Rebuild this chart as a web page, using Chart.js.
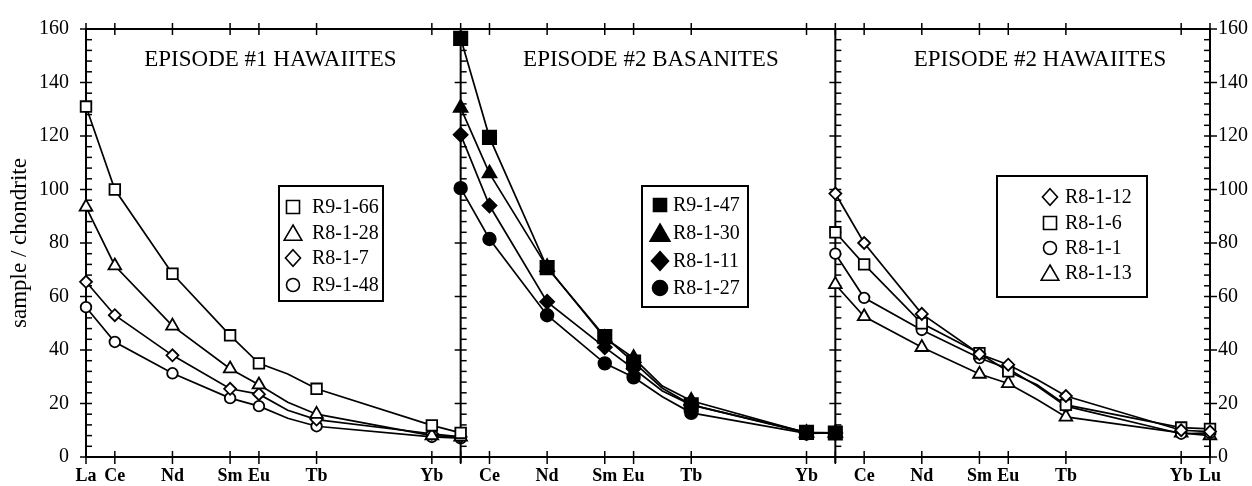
<!DOCTYPE html>
<html lang="en">
<head>
<meta charset="UTF-8">
<title>REE patterns — Episode #1 and #2 lavas</title>
<script src="https://cdn.jsdelivr.net/npm/chart.js@4.4.7/dist/chart.umd.min.js"></script>
<style>
*{margin:0;padding:0;box-sizing:border-box}
html,body{width:1252px;height:486px;background:#fff;overflow:hidden}
#wrap{position:relative;width:1252px;height:486px}
</style>
</head>
<body>
<div id="wrap"><canvas id="ree"></canvas></div>
<script>
// REE order along x; Gd only bends the lines (no symbol, no label)
const ELEMENTS = ["La", "Ce", "Nd", "Sm", "Eu", "Gd", "Tb", "Yb", "Lu"];
const SLOTS = [0, 1, 3, 5, 6, 7, 8, 12, 13];
const PANEL_SPAN = 13;
const Y_TICKS = [0, 20, 40, 60, 80, 100, 120, 140, 160];

const PANEL_TITLES = ["EPISODE #1 HAWAIITES", "EPISODE #2 BASANITES", "EPISODE #2 HAWAIITES"];

// sample / chondrite, one value per entry of ELEMENTS
const ep1HawNames = ["R9-1-66", "R8-1-28", "R8-1-7", "R9-1-48"];
const ep1HawValues = [
  [131, 100, 68.5, 45.5, 35, 31, 25.5, 11.8, 9],
  [93.5, 71.5, 49, 33, 27, 20.5, 16, 8, 7.5],
  [65.5, 53, 38, 25.5, 23.5, 17.5, 14, 8.7, 7.5],
  [56, 43, 31.3, 22, 19, 14.5, 11.5, 7.5, 7]
];

const ep2BasNames = ["R9-1-47", "R8-1-30", "R8-1-11", "R8-1-27"];
const ep2BasValues = [
  [156.5, 119.5, 70.8, 45, 35.5, 25.7, 19.5, 9.2, 9],
  [130.5, 106, 71, 44.5, 37, 26.5, 21, 9, 9],
  [120.5, 94, 58, 41, 33, 24.7, 19.5, 9, 9],
  [100.5, 81.5, 53, 35, 29.8, 22.5, 16.5, 8.8, 9]
];

const ep2HawNames = ["R8-1-12", "R8-1-6", "R8-1-1", "R8-1-13"];
const ep2HawValues = [
  [98.5, 80, 53.5, 38.5, 34.5, 29, 22.8, 10, 9.5],
  [84, 72, 50, 38.8, 32, 27, 19.5, 11, 10.5],
  [76, 59.5, 47.5, 37, 33, 26.5, 19, 8.7, 9],
  [64.5, 52.5, 41, 31, 27.5, 21.5, 15, 9, 8]
];

// symbol per sample and legend box per panel
const panels = [
  { names: ep1HawNames, values: ep1HawValues, styles: ["rect", "triangle", "rectRot", "circle"], filled: false,
    box: { x: 279, y: 186, w: 104, h: 115, rows: [21, 47, 72, 99], mx: 14, tx: 33 } },
  { names: ep2BasNames, values: ep2BasValues, styles: ["rect", "triangle", "rectRot", "circle"], filled: true,
    box: { x: 642, y: 186, w: 106, h: 121, rows: [19, 47, 75, 102], mx: 18, tx: 31 } },
  { names: ep2HawNames, values: ep2HawValues, styles: ["rectRot", "rect", "circle", "triangle"], filled: false,
    box: { x: 997, y: 176, w: 150, h: 121, rows: [21, 47, 72, 97], mx: 53, tx: 68 } }
];
const titleCenters = [6.4, 19.6, 33.1];

const openRadius = { rect: 7.5, triangle: 7.3, rectRot: 6, circle: 5.3 };
const fillRadius = { rect: 9.4, triangle: 8, rectRot: 7, circle: 6.3 };
const GD = ELEMENTS.indexOf("Gd");

const datasets = [];
panels.forEach((p, pi) => {
  p.names.forEach((name, si) => {
    const style = p.styles[si];
    const r = p.filled ? fillRadius[style] : openRadius[style];
    datasets.push({
      label: name,
      data: p.values[si].map((v, i) => ({ x: pi * PANEL_SPAN + SLOTS[i], y: v })),
      borderColor: "#000",
      borderWidth: 1.7,
      tension: 0,
      pointStyle: style,
      pointRadius: ctx => (ctx.dataIndex === GD ? 0 : r),
      pointHoverRadius: ctx => (ctx.dataIndex === GD ? 0 : r),
      pointBackgroundColor: p.filled ? "#000" : "#fff",
      pointBorderColor: "#000",
      pointBorderWidth: 1.8,
      clip: false
    });
  });
});

// x ticks: every labelled element in every panel, panel joins unlabelled
const xTickValues = [];
const xTickNames = {};
for (let pi = 0; pi < 3; pi++) {
  ELEMENTS.forEach((el, i) => {
    if (el === "Gd") return;
    const v = pi * PANEL_SPAN + SLOTS[i];
    if (xTickValues.includes(v)) return;
    xTickValues.push(v);
    xTickNames[v] = (v > 0 && v < 3 * PANEL_SPAN && v % PANEL_SPAN === 0) ? "" : el;
  });
}

function symbolPath(ctx, style, x, y, s) {
  ctx.beginPath();
  if (style === "rect") ctx.rect(x - s / 2, y - s / 2, s, s);
  else if (style === "circle") ctx.arc(x, y, s / 2, 0, Math.PI * 2);
  else if (style === "rectRot") {
    ctx.moveTo(x, y - s * 0.55); ctx.lineTo(x + s / 2, y);
    ctx.lineTo(x, y + s * 0.55); ctx.lineTo(x - s / 2, y); ctx.closePath();
  } else {
    ctx.moveTo(x, y - s * 0.5); ctx.lineTo(x + s * 0.55, y + s * 0.45);
    ctx.lineTo(x - s * 0.55, y + s * 0.45); ctx.closePath();
  }
}

const frameTicks = {
  id: "frameTicks",
  beforeDatasetsDraw(chart) {
    const { ctx, chartArea: a, scales: { x, y } } = chart;
    const seg = (x1, y1, x2, y2) => { ctx.beginPath(); ctx.moveTo(x1, y1); ctx.lineTo(x2, y2); ctx.stroke(); };
    ctx.save();
    ctx.strokeStyle = "#000";
    ctx.lineWidth = 2;
    ctx.strokeRect(a.left, a.top, a.right - a.left, a.bottom - a.top);
    const joins = [PANEL_SPAN, 2 * PANEL_SPAN].map(v => x.getPixelForValue(v));
    joins.forEach(px => seg(px, a.top, px, a.bottom + 6));
    ctx.lineWidth = 1.5;
    for (let v = 0; v <= 160; v += 4) {
      const py = y.getPixelForValue(v);
      const major = v % 20 === 0;
      [a.left, ...joins].forEach(px => seg(px - (major ? 6 : 0), py, px + 6, py));
      seg(a.right - 6, py, a.right + (major ? 7 : 0), py);
    }
    x.ticks.forEach(t => {
      const px = x.getPixelForValue(t.value);
      seg(px, a.top - 6, px, a.top + 6);
      seg(px, a.bottom - 6, px, a.bottom + 7);
    });
    ctx.restore();
  },
  afterDatasetsDraw(chart) {
    const { ctx, scales: { x } } = chart;
    ctx.save();
    ctx.fillStyle = "#000";
    ctx.font = "23px 'Liberation Serif'";
    ctx.textAlign = "center";
    ctx.textBaseline = "alphabetic";
    PANEL_TITLES.forEach((t, i) => ctx.fillText(t, x.getPixelForValue(titleCenters[i]), 66));

    panels.forEach(p => {
      const b = p.box;
      ctx.lineWidth = 2;
      ctx.strokeStyle = "#000";
      ctx.fillStyle = "#fff";
      ctx.fillRect(b.x, b.y, b.w, b.h);
      ctx.strokeRect(b.x, b.y, b.w, b.h);
      p.names.forEach((name, i) => {
        const cy = b.y + b.rows[i];
        const style = p.styles[i];
        const s = p.filled ? { rect: 13, triangle: 18, rectRot: 17, circle: 15 }[style]
                           : { rect: 13, triangle: 16, rectRot: 15, circle: 13 }[style];
        symbolPath(ctx, style, b.x + b.mx, cy, s);
        ctx.lineWidth = 1.6;
        ctx.fillStyle = p.filled ? "#000" : "#fff";
        ctx.fill();
        ctx.stroke();
        ctx.fillStyle = "#000";
        ctx.font = "20px 'Liberation Serif'";
        ctx.textAlign = "left";
        ctx.textBaseline = "middle";
        ctx.fillText(name, b.x + b.tx, cy + 1);
      });
    });
    ctx.restore();
  }
};

Chart.defaults.font.family = "'Liberation Serif', serif";
Chart.defaults.color = "#000";

new Chart(document.getElementById("ree"), {
  type: "line",
  data: { datasets },
  plugins: [frameTicks],
  options: {
    responsive: true,
    maintainAspectRatio: false,
    animation: false,
    layout: { padding: { top: 22, right: 0, bottom: 0, left: 0 } },
    plugins: { legend: { display: false }, tooltip: { enabled: false } },
    scales: {
      x: {
        type: "linear", min: 0, max: 3 * PANEL_SPAN,
        afterBuildTicks: s => { s.ticks = xTickValues.map(v => ({ value: v })); },
        afterFit: s => { s.height = 29; },
        grid: { display: false, drawTicks: false },
        border: { display: false },
        ticks: { autoSkip: false, maxRotation: 0, padding: 9, font: { size: 18, weight: "bold" },
                 callback: v => xTickNames[v] ?? "" }
      },
      y: {
        position: "left", min: 0, max: 160,
        afterBuildTicks: s => { s.ticks = Y_TICKS.map(v => ({ value: v })); },
        afterFit: s => { s.width = 86; },
        grid: { display: false, drawTicks: false },
        border: { display: false },
        ticks: { padding: 17, font: { size: 20 } },
        title: { display: true, text: "sample / chondrite", font: { size: 23 }, padding: { top: 6, bottom: 0 } }
      },
      y2: {
        position: "right", min: 0, max: 160,
        afterBuildTicks: s => { s.ticks = Y_TICKS.map(v => ({ value: v })); },
        afterFit: s => { s.width = 42; },
        grid: { display: false, drawTicks: false },
        border: { display: false },
        ticks: { padding: 8, font: { size: 20 } }
      }
    }
  }
});
</script>
</body>
</html>
